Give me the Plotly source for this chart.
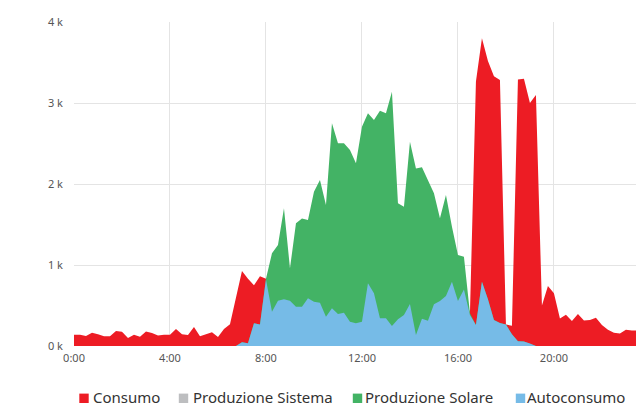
import plotly.graph_objects as go

# 15-minute samples over the day (hours)
hours = [i / 4 for i in range(96)]

consumo = [
    140, 140, 125, 165, 145, 120, 120, 185, 175, 100, 140, 115, 180, 160, 130, 140, 140, 210,
    145, 135, 235, 120, 145, 170, 110, 210, 270, 600, 925, 830, 750, 860, 830,
    424, 560, 576, 560, 486, 486, 588, 547, 535, 362, 465, 395, 410, 300, 280, 300, 774, 650,
    342, 342, 247, 329, 383, 519, 136, 335, 313, 514, 555, 617, 794, 555, 699, 400,
    3265, 3800, 3520, 3330, 3285, 265, 250, 3290, 3300, 3000, 3100, 500, 740, 650, 340, 385,
    310, 395, 315, 320, 350, 260, 200, 165, 155, 200, 190, 190, 190,
]

produzione_sistema = [0] * 96

produzione_solare = [0] * 27 + [
    0, 45, 33, 280, 265, 830,
    1144, 1247, 1700, 959, 1514, 1575, 1556, 1905, 2049, 1741, 2749, 2502, 2502, 2420, 2255,
    2708, 2872, 2790, 2905, 2872, 3140, 1761, 1720, 2523, 2190, 2206, 2049, 1885, 1576, 1864,
    1473, 1123, 1103, 403,
    259, 794, 576, 320, 285, 265, 145, 60, 55, 30, 0,
] + [0] * 18

autoconsumo = [0] * 27 + [
    0, 45, 33, 280, 265, 820,
    424, 560, 576, 560, 486, 486, 588, 547, 535, 362, 465, 395, 410, 300, 280, 300, 774, 650,
    342, 342, 247, 329, 383, 519, 136, 335, 313, 514, 555, 617, 794, 555, 699, 383,
    259, 794, 576, 320, 285, 265, 145, 60, 55, 30, 0,
] + [0] * 18

series_names = ["Consumo", "Produzione Sistema", "Produzione Solare", "Autoconsumo"]
series_colors = ["#ED1C24", "#BDBEC0", "#43B365", "#76BBE7"]
series_values = [consumo, produzione_sistema, produzione_solare, autoconsumo]

x_tickvals = [0, 4, 8, 12, 16, 20]
x_ticktext = ["0:00", "4:00", "8:00", "12:00", "16:00", "20:00"]
y_tickvals = [0, 1000, 2000, 3000, 4000]
y_ticktext = ["0 k", "1 k", "2 k", "3 k", "4 k"]

# page layout (browser pixels); body margin is removed by post_script
W, H = 636, 406
PLOT_L, PLOT_R, PLOT_T, PLOT_B = 74, 636, 22, 346
ML, MT = PLOT_L, PLOT_T
MR = W - PLOT_R
MB = H - PLOT_B
PW, PH = PLOT_R - PLOT_L, PLOT_B - PLOT_T

fig = go.Figure()
for name, color, vals in zip(series_names, series_colors, series_values):
    fig.add_trace(go.Scatter(
        x=hours, y=vals, name=name, mode="lines",
        line=dict(width=0, color=color), fill="tozeroy", fillcolor=color,
        showlegend=False, hoverinfo="skip",
    ))

# custom legend (square + label), in page pixels
legend_square_px = [84, 183.5, 357.5, 520.5]
legend_text_px = [93, 193, 365, 527]

def px_x(p):
    return (p - PLOT_L) / PW

def px_y(p):
    return (PLOT_B - p) / PH

shapes = []
annotations = []
for name, color, sq, tx in zip(series_names, series_colors, legend_square_px, legend_text_px):
    shapes.append(dict(type="rect", xref="paper", yref="paper",
                       x0=px_x(sq - 4.7), x1=px_x(sq + 4.7),
                       y0=px_y(403), y1=px_y(393.6),
                       fillcolor=color, line=dict(width=0)))
    annotations.append(dict(text=name, xref="paper", yref="paper",
                            x=px_x(tx - 2), y=px_y(397), xanchor="left", yanchor="middle",
                            showarrow=False,
                            font=dict(family="Noto Sans", size=15, color="#333333")))

fig.update_layout(
    width=W, height=H,
    margin=dict(l=ML, r=MR, t=MT, b=MB, pad=0),
    paper_bgcolor="white", plot_bgcolor="white",
    showlegend=False,
    shapes=shapes, annotations=annotations,
    font=dict(family="Noto Sans", size=11, color="#555555"),
)
fig.update_xaxes(
    range=[0, 23.42], tickvals=x_tickvals, ticktext=x_ticktext,
    showgrid=True, gridcolor="#E4E4E4", gridwidth=1, zeroline=False, showline=False,
    ticks="", ticklabelstandoff=4, tickfont=dict(size=11, color="#555555"),
    fixedrange=True,
)
fig.update_yaxes(
    range=[0, 4000], tickvals=y_tickvals, ticktext=y_ticktext,
    showgrid=True, gridcolor="#E4E4E4", gridwidth=1, zeroline=False, showline=False,
    ticks="", ticklabelstandoff=10, tickfont=dict(size=11, color="#555555"),
    fixedrange=True,
)

fig.write_html(
    "out.html",
    config={"displayModeBar": False},
    post_script="document.body.style.margin='0';document.body.style.overflow='hidden';",
)
